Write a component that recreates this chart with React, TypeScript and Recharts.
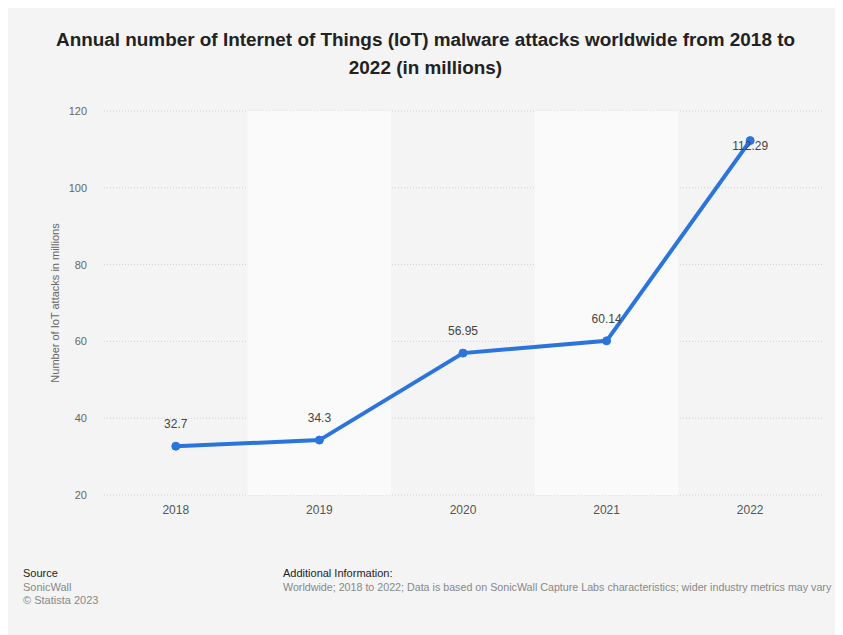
import React from "react";
import { LineChart, Line, XAxis, YAxis, CartesianGrid, ReferenceArea, LabelList } from "recharts";

const years = ["2018", "2019", "2020", "2021", "2022"];
const attacks = [32.7, 34.3, 56.95, 60.14, 112.29];
const yTicks = [20, 40, 60, 80, 100, 120];
const shadedYears = [1, 3];

const data = years.map((year, i) => ({ idx: i, year, value: attacks[i] }));

const FONT = '"Liberation Sans", Arial, Helvetica, sans-serif';

const ValueLabel = (props: any) => {
  const { x, y, value, index } = props;
  const last = index === attacks.length - 1;
  return (
    <text
      x={x}
      y={last ? y + 5 : y - 22}
      textAnchor="middle"
      dominantBaseline="central"
      fill="#444"
      fontSize={12}
      fontFamily={FONT}
    >
      {value}
    </text>
  );
};

const App = () => {
  return (
    <div
      style={{
        position: "relative",
        width: 835,
        height: 627,
        background: "#f4f4f4",
        fontFamily: FONT,
        overflow: "hidden",
      }}
    >
      <div
        style={{
          position: "absolute",
          top: 18,
          left: 0,
          width: 835,
          textAlign: "center",
          fontWeight: "bold",
          fontSize: 18.9,
          lineHeight: "28px",
          color: "#222",
        }}
      >
        Annual number of Internet of Things (IoT) malware attacks worldwide from 2018 to
        <br />
        2022 (in millions)
      </div>

      <div style={{ position: "absolute", top: 0, left: 0 }}>
        <LineChart
          width={835}
          height={530}
          data={data}
          margin={{ top: 103, right: 21, left: 36, bottom: 13 }}
        >
          {shadedYears.map((i) => (
            <ReferenceArea
              key={i}
              x1={i - 0.5}
              x2={i + 0.5}
              y1={20}
              y2={120}
              fill="#fafafa"
              fillOpacity={1}
              stroke="none"
              ifOverflow="visible"
            />
          ))}
          <CartesianGrid vertical={false} stroke="#cfcfcf" strokeDasharray="1 2" />
          <XAxis
            dataKey="idx"
            type="number"
            domain={[-0.5, 4.5]}
            ticks={[0, 1, 2, 3, 4]}
            tickFormatter={(v: number) => years[v]}
            axisLine={false}
            tickLine={false}
            tickSize={0}
            tickMargin={10}
            height={30}
            tick={{ fill: "#555", fontSize: 12, fontFamily: FONT }}
          />
          <YAxis
            domain={[20, 120]}
            ticks={yTicks}
            axisLine={false}
            tickLine={false}
            tickSize={0}
            tickMargin={17}
            width={60}
            tick={{ fill: "#666", fontSize: 11, fontFamily: FONT }}
            label={(p: any) => {
              const vb = p.viewBox || {};
              const cx = 47;
              const cy = (vb.y ?? 103) + (vb.height ?? 384) / 2;
              return (
                <text
                  x={cx}
                  y={cy}
                  transform={`rotate(-90 ${cx} ${cy})`}
                  textAnchor="middle"
                  dominantBaseline="central"
                  fill="#666"
                  fontSize={11}
                  fontFamily={FONT}
                >
                  Number of IoT attacks in millions
                </text>
              );
            }}
          />
          <Line
            type="linear"
            dataKey="value"
            stroke="#2a74db"
            strokeWidth={4}
            dot={{ r: 4, fill: "#2a74db", stroke: "#2a74db", strokeWidth: 1 }}
            activeDot={false}
            isAnimationActive={false}
          >
            <LabelList dataKey="value" content={ValueLabel} />
          </Line>
        </LineChart>
      </div>

      <div style={{ position: "absolute", left: 15, top: 559, fontSize: 11, lineHeight: "13.5px" }}>
        <div style={{ color: "#222" }}>Source</div>
        <div style={{ color: "#888" }}>SonicWall</div>
        <div style={{ color: "#888" }}>© Statista 2023</div>
      </div>
      <div style={{ position: "absolute", left: 275, top: 559, fontSize: 11, lineHeight: "13.5px" }}>
        <div style={{ color: "#222" }}>Additional Information:</div>
        <div style={{ color: "#888", fontSize: 10.7 }}>
          Worldwide; 2018 to 2022; Data is based on SonicWall Capture Labs characteristics; wider industry metrics may vary
        </div>
      </div>
    </div>
  );
};

export default App;
